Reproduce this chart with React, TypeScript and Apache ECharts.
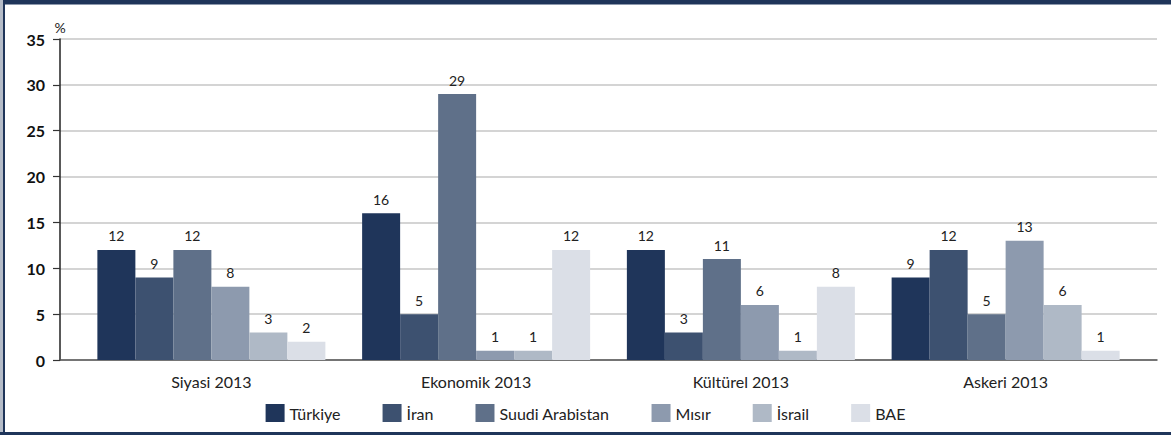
import React, { useEffect, useRef } from "react";
import * as echarts from "echarts";

const categories = ["Siyasi 2013", "Ekonomik 2013", "Kültürel 2013", "Askeri 2013"];
const seriesNames = ["Türkiye", "İran", "Suudi Arabistan", "Mısır", "İsrail", "BAE"];
const turkiye = [12, 16, 12, 9];
const iran = [9, 5, 3, 12];
const suudiArabistan = [12, 29, 11, 5];
const misir = [8, 1, 6, 13];
const israil = [3, 1, 1, 6];
const bae = [2, 12, 8, 1];
const colors = ["#1f355a", "#3d5170", "#5f7089", "#8d9aae", "#afb9c6", "#dbdfe7"];
const yTicks = { min: 0, max: 35, interval: 5 };

const FONT = "Lato, 'Open Sans', sans-serif";

export default function App() {
  const ref = useRef<HTMLDivElement>(null);
  useEffect(() => {
    document.body.style.margin = "0";
    if (!ref.current) return;
    const chart = echarts.init(ref.current, undefined, { renderer: "svg" });
    const values = [turkiye, iran, suudiArabistan, misir, israil, bae];
    chart.setOption({
      animation: false,
      backgroundColor: "#ffffff",
      textStyle: { fontFamily: FONT },
      grid: [
        { left: 60, right: 14, top: 39, bottom: 75 },
        { left: 79, right: 33, top: 39, bottom: 75 },
      ],
      xAxis: [
        {
          gridIndex: 0,
          type: "value",
          min: 0,
          max: 1,
          axisLine: { show: true, onZero: false, lineStyle: { color: "#555555", width: 1.5 } },
          axisTick: { show: false },
          axisLabel: { show: false },
          splitLine: { show: false },
        },
        {
          gridIndex: 1,
          type: "category",
          data: categories,
          axisLine: { show: false },
          axisTick: { show: false },
          axisLabel: { color: "#222222", fontSize: 16, margin: 13, fontFamily: FONT },
        },
      ],
      yAxis: [
        {
          gridIndex: 0,
          type: "value",
          min: yTicks.min,
          max: yTicks.max,
          interval: yTicks.interval,
          name: "%",
          nameLocation: "end",
          nameGap: 5,
          nameTextStyle: { color: "#222222", fontSize: 14, align: "center", verticalAlign: "bottom", fontFamily: FONT },
          axisLine: { show: true, lineStyle: { color: "#222222", width: 1.5 } },
          axisTick: { show: true, length: 7, lineStyle: { color: "#333333", width: 1.2 } },
          axisLabel: { color: "#111111", fontSize: 16, fontWeight: "bold", margin: 15, fontFamily: FONT },
          splitLine: { show: true, lineStyle: { color: "#c6c6c6", width: 1.5 } },
        },
        {
          gridIndex: 1,
          type: "value",
          min: yTicks.min,
          max: yTicks.max,
          interval: yTicks.interval,
          show: false,
        },
      ],
      legend: {
        bottom: 8,
        left: "center",
        itemWidth: 19,
        itemHeight: 18,
        itemGap: 42,
        icon: "rect",
        textStyle: { color: "#222222", fontSize: 16, fontFamily: FONT },
        data: seriesNames,
      },
      series: seriesNames.map((name, i) => ({
        name,
        type: "bar",
        xAxisIndex: 1,
        yAxisIndex: 1,
        data: values[i],
        barWidth: 38,
        barGap: "0%",
        itemStyle: { color: colors[i] },
        label: {
          show: true,
          position: "top",
          distance: 7,
          color: "#222222",
          fontSize: 14,
          fontFamily: FONT,
        },
      })),
      graphic: [
        { type: "rect", left: 0, top: 0, shape: { width: 1171, height: 4 }, style: { fill: "#1f355a" }, silent: true },
        { type: "rect", left: 0, top: 4, shape: { width: 1171, height: 1 }, style: { fill: "#8d99ad" }, silent: true },
        { type: "rect", left: 0, top: 0, shape: { width: 3, height: 435 }, style: { fill: "#b5bcc8" }, silent: true },
        { type: "rect", left: 3, top: 0, shape: { width: 2, height: 435 }, style: { fill: "#1f355a" }, silent: true },
        { type: "rect", left: 0, top: 432, shape: { width: 1171, height: 3 }, style: { fill: "#1f355a" }, silent: true },
      ],
    });
    return () => chart.dispose();
  }, []);
  return <div ref={ref} style={{ width: 1171, height: 435 }} />;
}
